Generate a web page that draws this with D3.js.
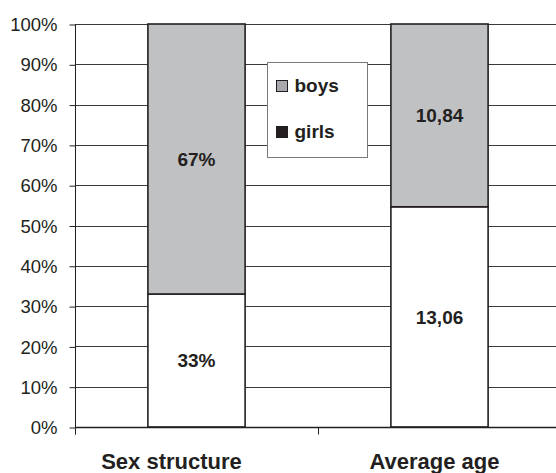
<!DOCTYPE html>
<html>
<head>
<meta charset="utf-8">
<script src="https://cdn.jsdelivr.net/npm/d3@7"></script>
<style>
  html, body { margin: 0; padding: 0; background: #fff; }
  svg { display: block; font-family: "Liberation Sans", Arial, sans-serif; }
</style>
</head>
<body>
<svg id="chart" width="556" height="473"></svg>
<script>
// ---- data ----
const categories = ["Sex structure", "Average age"];
const girls = [33, 13.06];
const boys = [67, 10.84];
const girlsLabels = ["33%", "13,06"];
const boysLabels = ["67%", "10,84"];
const yTicks = [0, 0.1, 0.2, 0.3, 0.4, 0.5, 0.6, 0.7, 0.8, 0.9, 1.0];
const legendItems = ["boys", "girls"];

// ---- layout / style ----
const W = 556, H = 473;
const plot = { left: 75, right: 561, top: 24, bottom: 427 };
const ink = "#231f20";
const boysFill = "#c0c1c3";
const girlsFill = "#ffffff";
const catLabelShift = [-25, -5];

const svg = d3.select("#chart");

const rows = categories.map((c, i) => ({ cat: c, girls: girls[i], boys: boys[i] }));
const stack = d3.stack().keys(["girls", "boys"]).offset(d3.stackOffsetExpand);
const series = stack(rows);

const x = d3.scaleBand().domain(categories).range([plot.left, plot.right]).padding(0);
const y = d3.scaleLinear().domain([0, 1]).range([plot.bottom, plot.top]);
const barW = x.bandwidth() * 0.4;
const barX = c => x(c) + (x.bandwidth() - barW) / 2;

// gridlines
svg.append("g").selectAll("line").data(yTicks.filter(t => t > 0)).join("line")
  .attr("x1", plot.left).attr("x2", plot.right)
  .attr("y1", d => Math.round(y(d)) + 0.5).attr("y2", d => Math.round(y(d)) + 0.5)
  .attr("stroke", "#3a3a3a").attr("stroke-width", 1);

// y axis
const yAxis = d3.axisLeft(y).tickValues(yTicks).tickFormat(d3.format(".0%")).tickSize(6).tickPadding(12);
const gy = svg.append("g").attr("transform", `translate(${plot.left + 0.5},0.5)`).call(yAxis);
gy.select(".domain").attr("d", `M0,${plot.top}V${plot.bottom + 7}`).attr("stroke", ink);
gy.selectAll(".tick line").attr("stroke", ink);
gy.selectAll(".tick text").attr("font-size", 18.5).attr("fill", ink)
  .attr("font-family", "Liberation Sans, Arial, sans-serif").attr("dy", "0.33em");

// bars
const colors = { girls: girlsFill, boys: boysFill };
series.forEach(s => {
  svg.append("g").selectAll("rect").data(s).join("rect")
    .attr("x", d => barX(d.data.cat))
    .attr("y", d => y(d[1]))
    .attr("width", barW)
    .attr("height", d => y(d[0]) - y(d[1]))
    .attr("fill", colors[s.key])
    .attr("stroke", ink).attr("stroke-width", 1.6);
});

// x axis
const gx = svg.append("g").attr("transform", `translate(0,${plot.bottom + 0.5})`);
gx.append("line").attr("x1", plot.left).attr("x2", plot.right).attr("stroke", ink).attr("stroke-width", 1.4);
const boundaries = categories.map(c => x(c)).concat([plot.right]);
gx.selectAll("line.tk").data(boundaries).join("line").attr("class", "tk")
  .attr("x1", d => Math.round(d) + 0.5).attr("x2", d => Math.round(d) + 0.5)
  .attr("y1", 0).attr("y2", 7).attr("stroke", ink);

// category labels
svg.append("g").selectAll("text").data(categories).join("text")
  .attr("x", (c, i) => x(c) + x.bandwidth() / 2 + catLabelShift[i])
  .attr("y", 469)
  .attr("text-anchor", "middle")
  .attr("font-size", 22).attr("font-weight", "bold").attr("fill", ink)
  .text(c => c);

// value labels
const labelSets = { girls: girlsLabels, boys: boysLabels };
series.forEach(s => {
  svg.append("g").selectAll("text").data(s).join("text")
    .attr("x", d => barX(d.data.cat) + barW / 2)
    .attr("y", d => (y(d[0]) + y(d[1])) / 2)
    .attr("dy", "0.35em")
    .attr("text-anchor", "middle")
    .attr("font-size", 19).attr("font-weight", "bold").attr("fill", ink)
    .text((d, i) => labelSets[s.key][i]);
});

// legend
const lg = svg.append("g").attr("transform", "translate(267.5,62.5)");
lg.append("rect").attr("width", 100).attr("height", 95).attr("fill", "#fff")
  .attr("stroke", "#7a7a7a").attr("stroke-width", 1);
const legendFill = { boys: boysFill, girls: ink };
legendItems.forEach((k, i) => {
  const g = lg.append("g").attr("transform", `translate(9,${18 + i * 46})`);
  g.append("rect").attr("width", 11).attr("height", 11)
    .attr("fill", k === "boys" ? "#a7a9ac" : legendFill[k])
    .attr("stroke", ink).attr("stroke-width", 1);
  g.append("text").attr("x", 18).attr("y", 11).attr("font-size", 19)
    .attr("font-weight", "bold").attr("fill", ink).text(k);
});
</script>
</body>
</html>
